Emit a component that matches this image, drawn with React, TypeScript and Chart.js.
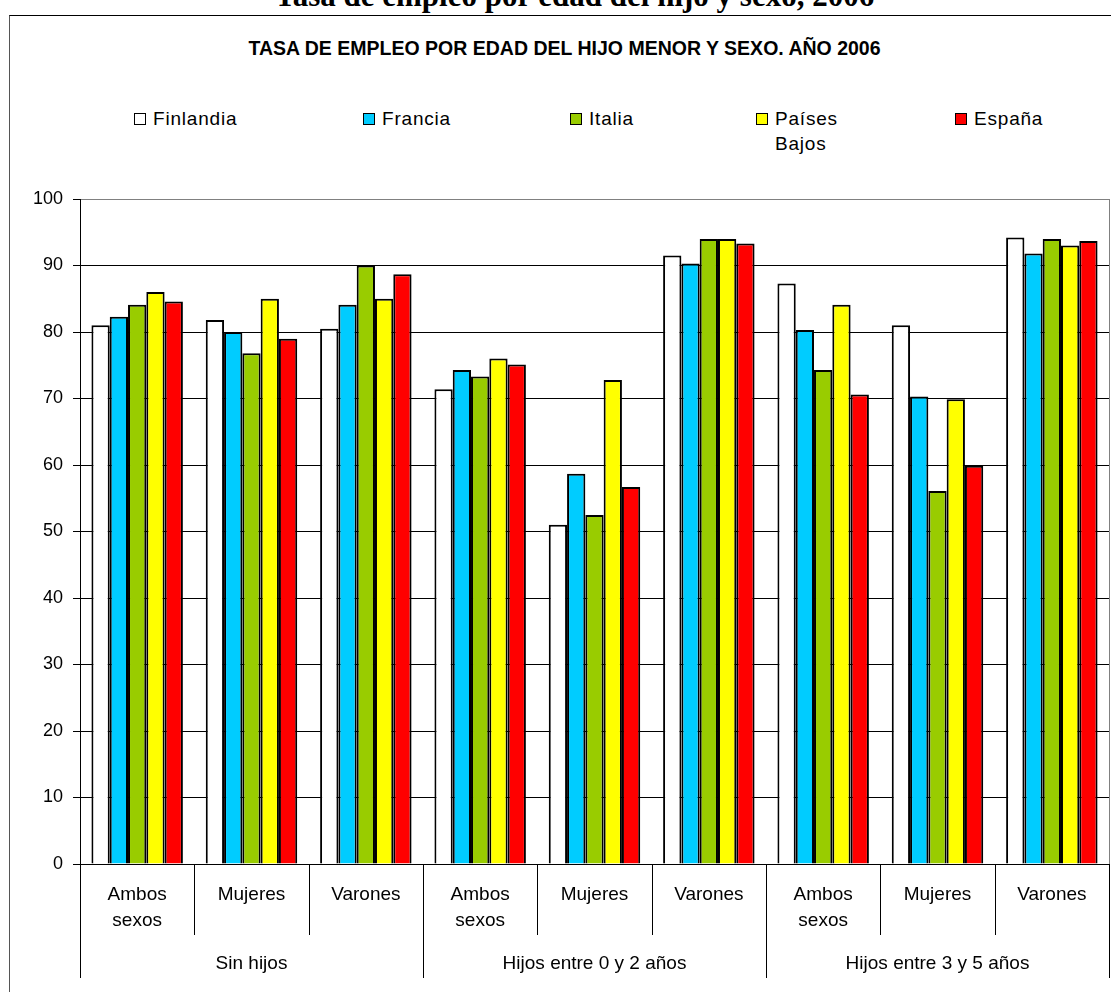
import React, { useEffect, useRef } from "react";
import { Chart, registerables } from "chart.js";
Chart.register(...registerables);

const pageTitle = "Tasa de empleo por edad del hijo y sexo, 2006";
const chartTitle = "TASA DE EMPLEO POR EDAD DEL HIJO MENOR Y SEXO. AÑO 2006";
const subCategories: string[][] = [
  ["Ambos", "sexos"], ["Mujeres"], ["Varones"],
  ["Ambos", "sexos"], ["Mujeres"], ["Varones"],
  ["Ambos", "sexos"], ["Mujeres"], ["Varones"],
];
const groups = ["Sin hijos", "Hijos entre 0 y 2 años", "Hijos entre 3 y 5 años"];
const seriesNames = ["Finlandia", "Francia", "Italia", "Países Bajos", "España"];
const seriesColors = ["#FFFFFF", "#00CCFF", "#99CC00", "#FFFF00", "#FF0000"];
const finlandia = [81.0, 81.8, 80.5, 71.4, 51.0, 91.5, 87.3, 81.0, 94.2];
const francia = [82.3, 80.0, 84.1, 74.3, 58.7, 90.3, 80.3, 70.3, 91.8];
const italia = [84.1, 76.8, 90.0, 73.3, 52.5, 94.0, 74.3, 56.1, 94.0];
const paisesBajos = [86.0, 85.0, 85.0, 76.0, 72.8, 94.0, 84.1, 69.9, 93.0];
const espana = [84.6, 79.0, 88.7, 75.1, 56.7, 93.3, 70.6, 59.9, 93.7];
const seriesValues = [finlandia, francia, italia, paisesBajos, espana];
const yMin = 0;
const yMax = 100;
const yStep = 10;

const FONT = "'Liberation Sans', Arial, sans-serif";
const legendLeft = [134, 363, 570, 756, 955];
const legendTextWidth = [200, 200, 180, 80, 150];

const xLabelsPlugin = {
  id: "xLabels",
  afterDraw(chart: any) {
    const { ctx, chartArea } = chart;
    const x = chart.scales.x;
    const n = subCategories.length;
    const w = (chartArea.right - chartArea.left) / n;
    ctx.save();
    ctx.strokeStyle = "#808080";
    ctx.lineWidth = 1;
    ctx.beginPath();
    ctx.moveTo(Math.round(chartArea.right) + 0.5, chartArea.top);
    ctx.lineTo(Math.round(chartArea.right) + 0.5, chartArea.bottom);
    ctx.stroke();
    ctx.strokeStyle = "#000";
    for (let i = 0; i <= n; i++) {
      const xp = Math.round(chartArea.left + i * w) + 0.5;
      const long = i % 3 === 0;
      ctx.beginPath();
      ctx.moveTo(xp, chartArea.bottom);
      ctx.lineTo(xp, chartArea.bottom + (long ? 114 : 71));
      ctx.stroke();
    }
    ctx.fillStyle = "#000";
    ctx.font = `19px ${FONT}`;
    ctx.textAlign = "center";
    ctx.textBaseline = "middle";
    subCategories.forEach((lines, i) => {
      const cx = x.getPixelForValue(i);
      lines.forEach((t, j) => {
        ctx.fillText(t, cx, chartArea.bottom + 31 + j * 26);
      });
    });
    groups.forEach((g, gi) => {
      const cx = (x.getPixelForValue(gi * 3) + x.getPixelForValue(gi * 3 + 2)) / 2;
      ctx.fillText(g, cx, chartArea.bottom + 100);
    });
    ctx.restore();
  },
};

export default function App() {
  const ref = useRef<HTMLCanvasElement | null>(null);
  useEffect(() => {
    if (!ref.current) return;
    const chart = new Chart(ref.current, {
      type: "bar",
      data: {
        labels: subCategories.map((l, i) => l.join(" ") + " " + i),
        datasets: seriesNames.map((name, i) => ({
          label: name,
          data: seriesValues[i],
          backgroundColor: seriesColors[i],
          borderColor: "#000",
          borderWidth: 2,
          categoryPercentage: 0.8,
          barPercentage: 1.0,
        })),
      },
      options: {
        animation: false,
        responsive: false,
        devicePixelRatio: 1,
        layout: { padding: { left: 0, top: 199, right: 2, bottom: 128 } },
        plugins: { legend: { display: false }, title: { display: false }, tooltip: { enabled: false } },
        scales: {
          x: { display: false },
          y: {
            min: yMin,
            max: yMax,
            afterFit: (s: any) => { s.width = 80; },
            ticks: { stepSize: yStep, color: "#000", font: { size: 18, family: FONT }, padding: 10 },
            grid: {
              color: (c: any) => (c.tick && c.tick.value === yMax ? "#808080" : "#000"),
              tickColor: "#000",
              tickLength: 7,
              lineWidth: 1,
            },
            border: { display: true, color: "#000", width: 1 },
          },
        },
      },
      plugins: [xLabelsPlugin],
    });
    return () => chart.destroy();
  }, []);

  return (
    <div style={{ position: "absolute", left: 0, top: 0, width: 1111, height: 992, overflow: "hidden", background: "#fff" }}>
      <div style={{ position: "absolute", left: 0, top: 0, width: 1111, height: 14, overflow: "hidden" }}>
        <div style={{ position: "absolute", left: 19, top: -20, width: 1111, textAlign: "center", font: "bold 31px 'Liberation Serif', 'Times New Roman', serif", lineHeight: "31px", whiteSpace: "nowrap" }}>
          {pageTitle}
        </div>
      </div>
      <div style={{ position: "absolute", left: 9, top: 15, width: 1120, height: 1100, borderTop: "1px solid #000", borderLeft: "1px solid #555" }} />
      <div style={{ position: "absolute", left: 0, top: 36, width: 1129, textAlign: "center", font: `bold 19.5px ${FONT}`, lineHeight: "24px", color: "#000", whiteSpace: "nowrap" }}>
        {chartTitle}
      </div>
      {seriesNames.map((name, i) => (
        <div key={name} style={{ position: "absolute", left: legendLeft[i], top: 106, display: "flex", alignItems: "flex-start" }}>
          <div style={{ width: 10, height: 10, border: "1px solid #000", background: seriesColors[i], marginTop: 7, flex: "none" }} />
          <div style={{ marginLeft: 7, width: legendTextWidth[i], font: `19px ${FONT}`, letterSpacing: "0.8px", lineHeight: "25px", color: "#000" }}>{name}</div>
        </div>
      ))}
      <canvas ref={ref} width={1111} height={992} style={{ position: "absolute", left: 0, top: 0, width: 1111, height: 992 }} />
    </div>
  );
}
